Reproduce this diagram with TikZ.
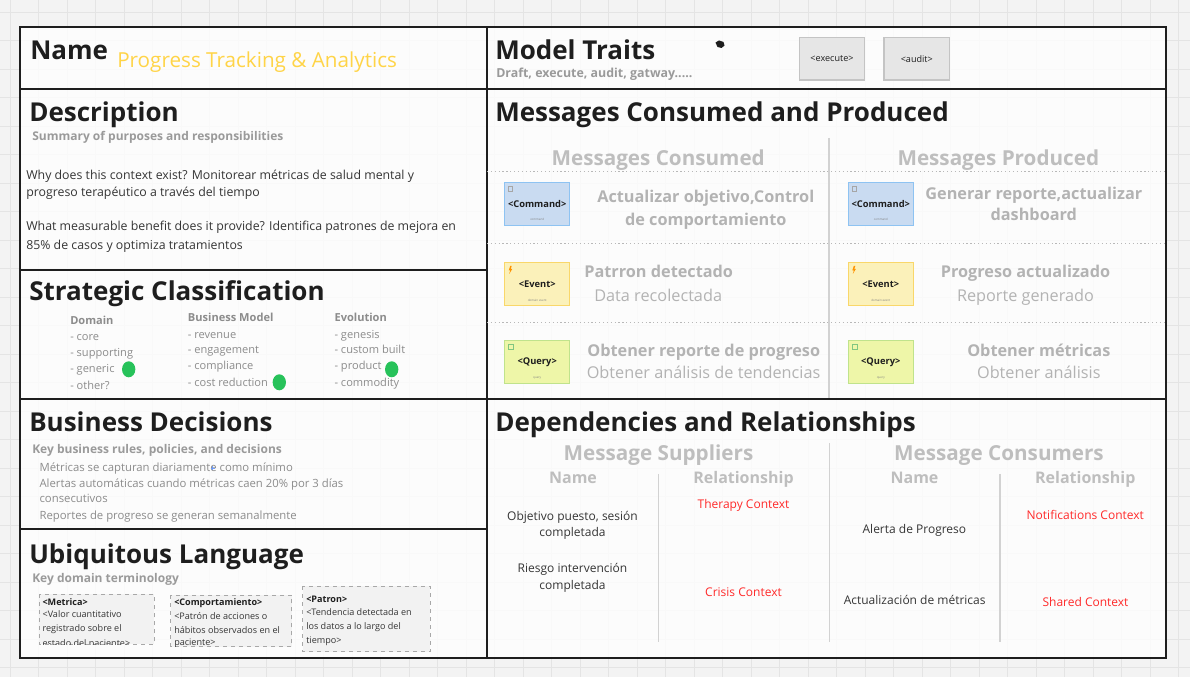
\documentclass[tikz,border=0pt]{standalone}
\usepackage{fontspec}
\setmainfont{Open Sans}
\usetikzlibrary{shapes.geometric}

\definecolor{ink}{HTML}{1E1E1E}
\definecolor{subgray}{HTML}{9A9A9A}
\definecolor{bodyc}{HTML}{353535}
\definecolor{listgray}{HTML}{8C8C8C}
\definecolor{pale}{HTML}{BEBEBE}
\definecolor{msgtext}{HTML}{B3B3B3}
\definecolor{ctxred}{HTML}{FF2A2A}
\definecolor{gold}{HTML}{FFD447}
\definecolor{dotgreen}{HTML}{27C25A}
\definecolor{cmdfill}{HTML}{C9DBF1}
\definecolor{cmdline}{HTML}{8EC3F2}
\definecolor{evtfill}{HTML}{FBF1BA}
\definecolor{evtline}{HTML}{F9D76A}
\definecolor{qryfill}{HTML}{EEF6A8}
\definecolor{qryline}{HTML}{C0E38C}
\definecolor{traitfill}{HTML}{E6E6E6}
\definecolor{traitline}{HTML}{C4C4C4}
\definecolor{termfill}{HTML}{F2F2F2}
\definecolor{termline}{HTML}{A8A8A8}
\definecolor{bgc}{HTML}{F3F3F3}
\definecolor{gridc}{HTML}{E4E4E4}
\definecolor{splitc}{HTML}{D2D2D2}
\definecolor{dotc}{HTML}{B8B8B8}

\tikzset{
  frame/.style={draw=ink, line width=2.2pt},
  divider/.style={draw=ink, line width=1.6pt},
  title/.style={anchor=base west, inner sep=0, text=ink, font=\fontsize{19.5}{22}\selectfont\bfseries},
  hint/.style={anchor=base west, inner sep=0, text=subgray, font=\fontsize{9}{11}\selectfont\bfseries},
  body/.style={anchor=base west, inner sep=0, text=bodyc, font=\fontsize{9.25}{11}\selectfont},
  colhead/.style={anchor=base west, inner sep=0, text=listgray, font=\fontsize{8.3}{10}\selectfont\bfseries},
  item/.style={anchor=base west, inner sep=0, text=listgray, font=\fontsize{8.3}{10}\selectfont},
  rulet/.style={anchor=base west, inner sep=0, text=listgray, font=\fontsize{8.5}{10}\selectfont},
  pick/.style={ellipse, fill=dotgreen, minimum width=10pt, minimum height=12pt, inner sep=0},
  section/.style={anchor=base, inner sep=0, text=pale, font=\fontsize{15.5}{18}\selectfont\bfseries},
  msgmain/.style={anchor=base, inner sep=0, text=msgtext, font=\fontsize{12.2}{14}\selectfont\bfseries},
  msgsub/.style={anchor=base, inner sep=0, text=msgtext, font=\fontsize{12.2}{14}\selectfont},
  colname/.style={anchor=base, inner sep=0, text=pale, font=\fontsize{12}{14}\selectfont\bfseries},
  dep/.style={anchor=base, inner sep=0, text=bodyc, font=\fontsize{9}{11}\selectfont},
  ctx/.style={anchor=base, inner sep=0, text=ctxred, font=\fontsize{9}{11}\selectfont},
  card/.style={minimum width=48.75pt, minimum height=32.25pt, inner sep=0, line width=1.1pt,
               font=\fontsize{7}{8}\selectfont\bfseries, text=ink},
  cmdcard/.style={card, draw=cmdline, fill=cmdfill},
  evtcard/.style={card, draw=evtline, fill=evtfill},
  qrycard/.style={card, draw=qryline, fill=qryfill},
  cardnote/.style={inner sep=0, text=gray, font=\fontsize{2.2}{3}\selectfont},
  trait/.style={draw=traitline, fill=traitfill, line width=1.1pt, minimum width=49pt, minimum height=31.7pt,
                inner sep=0, font=\fontsize{6.8}{8}\selectfont, text=ink},
  termbox/.style={draw=termline, fill=termfill, dashed, line width=0.5pt},
  termhead/.style={anchor=base west, inner sep=0, text=ink, font=\fontsize{6.8}{8}\selectfont\bfseries},
  termtext/.style={anchor=base west, inner sep=0, text=bodyc, font=\fontsize{6.8}{8}\selectfont},
  split/.style={draw=splitc, line width=1.1pt},
  dotrule/.style={draw=dotc, line width=0.9pt, dotted}
}

\begin{document}
\begin{tikzpicture}[x=0.75pt, y=-0.75pt]
  % canvas and grid
  \fill[bgc] (0,0) rectangle (1190,677);
  \useasboundingbox (0,0) rectangle (1190,677);
  \foreach \gx in {10,38.5,...,1190} \draw[gridc, line width=0.5pt] (\gx,0) -- (\gx,677);
  \foreach \gy in {12,40.5,...,677} \draw[gridc, line width=0.5pt] (0,\gy) -- (1190,\gy);
  \fill[white, opacity=0.78] (20,27) rectangle (1166,658);

  % section rules
  \draw[divider] (487,27) -- (487,658);
  \draw[divider] (20,89) -- (1166,89);
  \draw[divider] (20,270) -- (487,270);
  \draw[divider] (20,399) -- (1166,399);
  \draw[divider] (20,529) -- (487,529);
  \draw[frame] (20,27) rectangle (1166,658);

  % ---------- Name ----------
  \node[title] (nameT) at (30,60) {Name};
  \node[anchor=base west, inner sep=0, text=gold, font=\fontsize{15.5}{17}\selectfont] (nameV) at (117,67.7) {Progress Tracking \& Analytics};

  % ---------- Model traits ----------
  \node[title] (traitsT) at (495,60) {Model Traits};
  \node[hint, font=\fontsize{9.3}{11}\selectfont\bfseries] (traitsH) at (496,77.7) {Draft, execute, audit, gatway.....};
  \fill[ink] (715.5,42.5) -- (719,40.5) -- (723.5,42) -- (724.5,45.5) -- (721.5,48) -- (717.5,47) -- cycle;
  \node[trait] (execT) at (832,58.8) {<execute>};
  \node[trait] (auditT) at (916.8,58.8) {<audit>};

  % ---------- Description ----------
  \node[title] (descT) at (29,121.7) {Description};
  \node[hint] (descH) at (32,140.7) {Summary of purposes and responsibilities};
  \node[body] (d1) at (26,179.3) {Why does this context exist? Monitorear métricas de salud mental y};
  \node[body] (d2) at (26,196.7) {progreso terapéutico a través del tiempo};
  \node[body] (d3) at (26,231) {What measurable benefit does it provide? Identifica patrones de mejora en};
  \node[body] (d4) at (26,249.3) {85\% de casos y optimiza tratamientos};

  % ---------- Strategic classification ----------
  \node[title] (stratT) at (29,301) {Strategic Classification};
  \node[colhead] (domH) at (70,324.3) {Domain};
  \node[item] (dom1) at (70,340.7) {- core};
  \node[item] (dom2) at (70,356.7) {- supporting};
  \node[item] (dom3) at (70,372.3) {- generic};
  \node[item] (dom4) at (70,389.3) {- other?};
  \node[colhead] (bmH) at (187.7,321.7) {Business Model};
  \node[item] (bm1) at (187.7,338.3) {- revenue};
  \node[item] (bm2) at (187.7,354) {- engagement};
  \node[item] (bm3) at (187.7,370) {- compliance};
  \node[item] (bm4) at (187.7,386.3) {- cost reduction};
  \node[colhead] (evH) at (334.3,321.7) {Evolution};
  \node[item] (ev1) at (334.3,338.3) {- genesis};
  \node[item] (ev2) at (334.3,354) {- custom built};
  \node[item] (ev3) at (334.3,370) {- product};
  \node[item] (ev4) at (334.3,386.3) {- commodity};
  \node[pick] (pickDom) at (128.7,369.3) {};
  \node[pick] (pickBm) at (279.3,382.3) {};
  \node[pick] (pickEv) at (391.7,369.3) {};

  % ---------- Business decisions ----------
  \node[title] (bizT) at (29,431.7) {Business Decisions};
  \node[hint] (bizH) at (32,453.3) {Key business rules, policies, and decisions};
  \node[rulet] (r1) at (39.3,471.7) {Métricas se capturan diariamente como mínimo};
  \node[rulet] (r2) at (39.3,487.3) {Alertas automáticas cuando métricas caen 20\% por 3 días};
  \node[rulet] (r3) at (39.3,503) {consecutivos};
  \node[rulet] (r4) at (39.3,519.3) {Reportes de progreso se generan semanalmente};
  \draw[cmdline!80!blue, line width=0.8pt] (210.5,468.5) -- (214.5,468.5) (212.5,466.5) -- (212.5,470.5);

  % ---------- Ubiquitous language ----------
  \node[title] (ulT) at (29,563.3) {Ubiquitous Language};
  \node[hint] (ulH) at (32,582.7) {Key domain terminology};
  \draw[termbox] (39,594.3) rectangle (154,644.3);
  \draw[termbox] (170.7,595) rectangle (291.7,646.7);
  \draw[termbox] (302.7,586) rectangle (430,651.7);
  \begin{scope}
    \clip (39,594.3) rectangle (154,644.3);
    \node[termhead] (t1h) at (42.3,605.7) {<Metrica>};
    \node[termtext] (t1a) at (42.3,617.3) {<Valor cuantitativo};
    \node[termtext] (t1b) at (42.3,631.5) {registrado sobre el};
    \node[termtext] (t1c) at (42.3,646.7) {estado del paciente>};
  \end{scope}
  \begin{scope}
    \clip (170.7,595) rectangle (291.7,646.7);
    \node[termhead] (t2h) at (174,605) {<Comportamiento>};
    \node[termtext] (t2a) at (174,619) {<Patrón de acciones o};
    \node[termtext] (t2b) at (174,633.3) {hábitos observados en el};
    \node[termtext] (t2c) at (174,645.8) {paciente>};
  \end{scope}
  \node[termhead] (t3h) at (306,602.7) {<Patron>};
  \node[termtext] (t3a) at (306,615) {<Tendencia detectada en};
  \node[termtext] (t3b) at (306,629) {los datos a lo largo del};
  \node[termtext] (t3c) at (306,643.3) {tiempo>};

  % ---------- Messages consumed and produced ----------
  \node[title] (msgT) at (495,121.7) {Messages Consumed and Produced};
  \node[section] (consH) at (658.2,166) {Messages Consumed};
  \node[section] (prodH) at (998.3,166) {Messages Produced};
  \draw[split] (829,138) -- (829,398);
  \draw[dotrule] (487,171.7) -- (1166,171.7);
  \draw[dotrule] (487,243.3) -- (1166,243.3);
  \draw[dotrule] (487,322.3) -- (1166,322.3);

  % message cards
  \foreach \cx/\nm in {537.2/In, 880.8/Out}{
    \node[cmdcard] (cmd\nm) at (\cx,203.8) {<Command>};
    \node[evtcard] (evt\nm) at (\cx,284.2) {<Event>};
    \node[qrycard] (qry\nm) at (\cx,362) {<Query>};
    % corner glyphs
    \draw[gray!70, line width=0.4pt] (\cx-28.5,186) rectangle (\cx-24.5,191.5);
    \fill[orange!85!yellow] (\cx-27,266) -- (\cx-28.5,270.5) -- (\cx-27,270.5) -- (\cx-28,274) -- (\cx-25,269) -- (\cx-26.5,269) -- (\cx-25.5,266) -- cycle;
    \draw[green!55!black!50, line width=0.4pt] (\cx-29,344.5) rectangle (\cx-23.5,349);
    % footer captions
    \node[cardnote] (cmdN\nm) at (\cx,219.5) {command};
    \node[cardnote] (evtN\nm) at (\cx,300) {domain event};
    \node[cardnote] (qryN\nm) at (\cx,378) {query};
  }

  \node[msgmain] (c1a) at (705.8,202.7) {Actualizar objetivo,Control};
  \node[msgmain] (c1b) at (705.8,225.7) {de comportamiento};
  \node[msgmain] (c2a) at (658.7,277.7) {Patrron detectado};
  \node[msgsub]  (c2b) at (658.2,301.7) {Data recolectada};
  \node[msgmain] (c3a) at (703.7,356.7) {Obtener reporte de progreso};
  \node[msgsub]  (c3b) at (703.6,378.3) {Obtener análisis de tendencias};

  \node[msgmain] (p1a) at (1033.8,199.3) {Generar reporte,actualizar};
  \node[msgmain] (p1b) at (1033.8,221) {dashboard};
  \node[msgmain] (p2a) at (1025.5,277.7) {Progreso actualizado};
  \node[msgsub]  (p2b) at (1025.5,301.7) {Reporte generado};
  \node[msgmain] (p3a) at (1038.8,356.5) {Obtener métricas};
  \node[msgsub]  (p3b) at (1038.8,378.3) {Obtener análisis};

  % ---------- Dependencies and relationships ----------
  \node[title] (depT) at (495,431.7) {Dependencies and Relationships};
  \node[section] (supH) at (658.5,460) {Message Suppliers};
  \node[section] (conH) at (999,460) {Message Consumers};
  \draw[split] (829.3,443.3) -- (829.3,642.3);
  \draw[split] (658.5,474) -- (658.5,642.3);
  \draw[split] (1000,474) -- (1000,642.3);
  \node[colname] (supName) at (573,483.3) {Name};
  \node[colname] (supRel) at (743.5,483.3) {Relationship};
  \node[colname] (conName) at (914.5,483.3) {Name};
  \node[colname] (conRel) at (1085.3,483.3) {Relationship};

  \node[dep] (s1a) at (572.5,520) {Objetivo puesto, sesión};
  \node[dep] (s1b) at (572.5,536.7) {completada};
  \node[dep] (s2a) at (572.5,572.3) {Riesgo intervención};
  \node[dep] (s2b) at (572.5,589) {completada};
  \node[ctx] (s1r) at (743.5,508.3) {Therapy Context};
  \node[ctx] (s2r) at (743.5,596.7) {Crisis Context};

  \node[dep] (k1) at (914.4,533.3) {Alerta de Progreso};
  \node[dep] (k2) at (914.7,604) {Actualización de métricas};
  \node[ctx] (k1r) at (1085.3,519) {Notifications Context};
  \node[ctx] (k2r) at (1085.5,606.7) {Shared Context};
\end{tikzpicture}
\end{document}
